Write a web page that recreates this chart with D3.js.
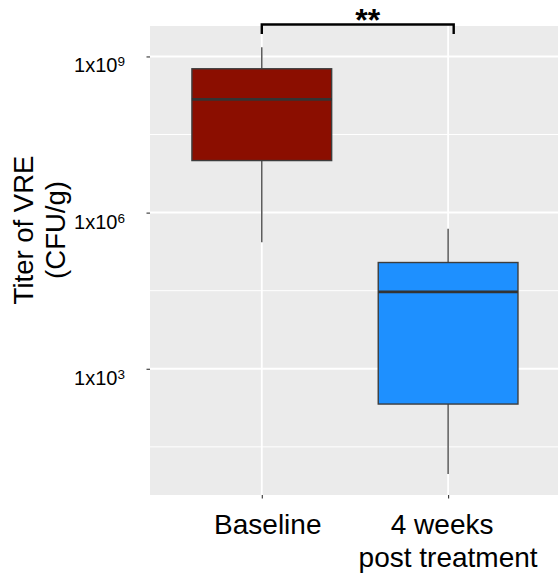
<!DOCTYPE html>
<html>
<head>
<meta charset="utf-8">
<script src="https://cdn.jsdelivr.net/npm/d3@7/dist/d3.min.js"></script>
<style>
  html, body { margin: 0; padding: 0; background: #fff; }
  svg { display: block; }
  text { font-family: "Liberation Sans", Arial, Helvetica, sans-serif; fill: #000; }
</style>
</head>
<body>
<svg id="chart" width="558" height="574"></svg>
<script>
// Box-plot summaries of VRE titre (CFU/g), one entry per group
const categories = ["Baseline", "4 weeks\npost treatment"];
const whiskerLow  = [2.7e5, 9.5];
const lowerQuart  = [1.0e7, 210];
const medians     = [1.5e8, 3.0e4];
const upperQuart  = [5.8e8, 1.1e5];
const whiskerHigh = [1.5e9, 4.9e5];
const fills = ["#8b0e00", "#1e90ff"];

// Axis breaks
const yTickValues = [1e3, 1e6, 1e9];
const yMinorValues = [Math.pow(10, 1.5), Math.pow(10, 4.5), Math.pow(10, 7.5)];
const yTitleLines = ["Titer of VRE", "(CFU/g)"];

// Significance bracket between the two groups
const signifLabel = "**";
const signifFrom = 1;
const signifTo = 2.03;

const svg = d3.select("#chart");
const panel = { left: 150, right: 559.9, top: 26, bottom: 495 };

const x = d3.scaleLinear().domain([0.4, 2.6]).range([panel.left, panel.right]);
const y = d3.scaleLog()
  .domain([Math.pow(10, 0.575), Math.pow(10, 9.585)])
  .range([panel.bottom, panel.top]);
const boxWidth = x(1.375) - x(0.625);

// panel background
svg.append("rect")
  .attr("x", panel.left).attr("y", panel.top)
  .attr("width", panel.right - panel.left)
  .attr("height", panel.bottom - panel.top)
  .attr("fill", "#ebebeb");

svg.append("clipPath").attr("id", "panel-clip")
  .append("rect")
  .attr("x", panel.left).attr("y", panel.top)
  .attr("width", panel.right - panel.left)
  .attr("height", panel.bottom - panel.top);

const plot = svg.append("g").attr("clip-path", "url(#panel-clip)");

// grid lines
plot.selectAll("line.minor").data(yMinorValues).join("line")
  .attr("class", "minor")
  .attr("x1", panel.left).attr("x2", panel.right)
  .attr("y1", d => y(d)).attr("y2", d => y(d))
  .attr("stroke", "#fff").attr("stroke-width", 1);

plot.selectAll("line.major").data(yTickValues).join("line")
  .attr("class", "major")
  .attr("x1", panel.left).attr("x2", panel.right)
  .attr("y1", d => y(d)).attr("y2", d => y(d))
  .attr("stroke", "#fff").attr("stroke-width", 2);

plot.selectAll("line.vmajor").data(categories).join("line")
  .attr("class", "vmajor")
  .attr("x1", (d, i) => x(i + 1)).attr("x2", (d, i) => x(i + 1))
  .attr("y1", panel.top).attr("y2", panel.bottom)
  .attr("stroke", "#fff").attr("stroke-width", 1.8);

// boxes
const groups = plot.selectAll("g.box").data(categories).join("g").attr("class", "box");

groups.append("line")
  .attr("x1", (d, i) => x(i + 1)).attr("x2", (d, i) => x(i + 1))
  .attr("y1", (d, i) => y(whiskerHigh[i])).attr("y2", (d, i) => y(upperQuart[i]))
  .attr("stroke", "#4d4d4d").attr("stroke-width", 1.4);

groups.append("line")
  .attr("x1", (d, i) => x(i + 1)).attr("x2", (d, i) => x(i + 1))
  .attr("y1", (d, i) => y(lowerQuart[i])).attr("y2", (d, i) => y(whiskerLow[i]))
  .attr("stroke", "#4d4d4d").attr("stroke-width", 1.4);

groups.append("rect")
  .attr("x", (d, i) => x(i + 1) - boxWidth / 2)
  .attr("width", boxWidth)
  .attr("y", (d, i) => y(upperQuart[i]))
  .attr("height", (d, i) => y(lowerQuart[i]) - y(upperQuart[i]))
  .attr("fill", (d, i) => fills[i])
  .attr("stroke", "#3d3d3d").attr("stroke-width", 1.4);

groups.append("line")
  .attr("x1", (d, i) => x(i + 1) - boxWidth / 2)
  .attr("x2", (d, i) => x(i + 1) + boxWidth / 2)
  .attr("y1", (d, i) => y(medians[i])).attr("y2", (d, i) => y(medians[i]))
  .attr("stroke", "#333").attr("stroke-width", 2.6);

// y axis
const yAxis = svg.append("g")
  .attr("transform", `translate(${panel.left},0)`)
  .call(d3.axisLeft(y).tickValues(yTickValues).tickSize(3.5).tickPadding(21.5).tickFormat(""));
yAxis.select(".domain").remove();
yAxis.selectAll(".tick line").attr("stroke", "#333").attr("stroke-width", 1.1);
yAxis.selectAll(".tick text").each(function (d) {
  const t = d3.select(this)
    .attr("font-size", 20)
    .attr("text-anchor", "end")
    .attr("dy", null)
    .attr("y", 15.5)
    .attr("fill", "#000");
  t.append("tspan").text("1x10");
  t.append("tspan").attr("font-size", 13.5).attr("dy", -6)
    .text(Math.round(Math.log10(d)));
});

// x axis
const xAxis = svg.append("g")
  .attr("transform", `translate(0,${panel.bottom})`)
  .call(d3.axisBottom(x).tickValues(categories.map((d, i) => i + 1)).tickSize(3.5).tickFormat(""));
xAxis.select(".domain").remove();
xAxis.selectAll(".tick line").attr("stroke", "#333").attr("stroke-width", 1.1);

const labelShift = [6, -6];
svg.selectAll("text.xlab").data(categories).join("text")
  .attr("class", "xlab")
  .attr("text-anchor", "middle")
  .attr("font-size", 28)
  .each(function (d, i) {
    const lines = d.split("\n");
    const t = d3.select(this);
    lines.forEach((line, j) => {
      t.append("tspan")
        .attr("x", x(i + 1) + (j === 0 ? labelShift[i] : 0))
        .attr("y", 533.5 + j * 33.4)
        .text(line);
    });
  });

// y axis title
const yTitle = svg.append("text")
  .attr("transform", "translate(0,230) rotate(-90)")
  .attr("text-anchor", "middle")
  .attr("font-size", 27.5);
yTitleLines.forEach((line, j) => {
  yTitle.append("tspan").attr("x", 0).attr("y", 33 + j * 32).text(line);
});

// significance bracket
svg.append("path")
  .attr("d", `M${x(signifFrom)},34 V24.5 H${x(signifTo)} V34`)
  .attr("fill", "none").attr("stroke", "#000").attr("stroke-width", 2.4);

svg.append("text")
  .attr("x", (x(signifFrom) + x(signifTo)) / 2 + 10)
  .attr("y", 31)
  .attr("text-anchor", "middle")
  .attr("font-size", 32)
  .attr("font-weight", "bold")
  .text(signifLabel);
</script>
</body>
</html>
